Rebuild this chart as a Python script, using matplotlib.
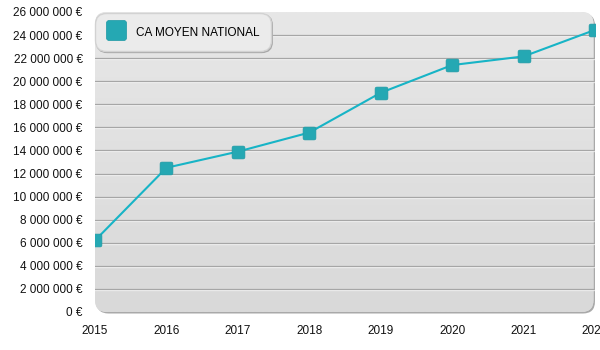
import numpy as np
import matplotlib
matplotlib.use("Agg")
import matplotlib.pyplot as plt
from matplotlib.patches import FancyBboxPatch
from matplotlib.path import Path
from matplotlib.lines import Line2D
import matplotlib.transforms as mtransforms
from matplotlib.ticker import FuncFormatter, MultipleLocator

years = [2015, 2016, 2017, 2018, 2019, 2020, 2021, 2022]
ca_moyen = [6.2e6, 12.5e6, 13.9e6, 15.55e6, 19.0e6, 21.4e6, 22.15e6, 24.45e6]
series_label = "CA MOYEN NATIONAL"

LINE_COLOR = "#17b4c6"
MARKER_COLOR = "#25a8b3"

plt.rcParams["font.family"] = ["Liberation Sans", "DejaVu Sans"]
plt.rcParams["font.size"] = 8.5

fig = plt.figure(figsize=(6, 3.5), dpi=100)
ax = fig.add_axes([95 / 600, 38 / 350, 500 / 600, 300 / 350])


def rounded_square(r=0.28, n=8):
    """Square marker path with rounded corners."""
    pts = []
    centers = [(1 - r, 1 - r, 0), (-1 + r, 1 - r, 90), (-1 + r, -1 + r, 180), (1 - r, -1 + r, 270)]
    for cx, cy, a0 in centers:
        for t in np.linspace(np.radians(a0), np.radians(a0 + 90), n):
            pts.append((cx + r * np.cos(t), cy + r * np.sin(t)))
    pts.append(pts[0])
    codes = [Path.MOVETO] + [Path.LINETO] * (len(pts) - 2) + [Path.CLOSEPOLY]
    return Path(pts, codes)


marker_path = rounded_square()

# rounded background panel with a soft shadow on the right and bottom
W, H = 500.0, 300.0
aspect = W / H
shadow_tr = mtransforms.offset_copy(ax.transAxes, fig=fig, x=1.5, y=-1.5, units="dots")
shadow = FancyBboxPatch((0, 0), 0.997, 1.0, boxstyle="round,pad=0,rounding_size=0.024",
                        mutation_aspect=aspect, transform=shadow_tr,
                        facecolor="#a9a9a9", edgecolor="none", zorder=0, clip_on=False)
ax.add_patch(shadow)
panel = FancyBboxPatch((0, 0), 0.997, 1.0, boxstyle="round,pad=0,rounding_size=0.024",
                       mutation_aspect=aspect, transform=ax.transAxes,
                       facecolor="#e0e0e0", edgecolor="none", zorder=0.1, clip_on=False)
ax.add_patch(panel)
grad = np.linspace(0, 1, 256).reshape(-1, 1)
img = ax.imshow(grad, extent=[0, 0.997, 0, 1], transform=ax.transAxes, aspect="auto",
                cmap=matplotlib.colors.LinearSegmentedColormap.from_list("bg", ["#e7e7e7", "#d9d9d9"]),
                origin="upper", zorder=0.2, interpolation="bilinear")
img.set_clip_path(panel)

# embossed horizontal grid
grid_vals = np.arange(2e6, 26e6, 2e6)
hl_tr = mtransforms.offset_copy(ax.get_yaxis_transform(), fig=fig, y=-1, units="dots")
for v in grid_vals:
    ax.plot([0, 0.997], [v, v], transform=hl_tr, color="white", lw=0.9, alpha=0.7, zorder=0.5)
    ax.plot([0, 0.997], [v, v], transform=ax.get_yaxis_transform(), color="#a6a6a6",
            lw=0.9, zorder=0.6)

ax.plot(years, ca_moyen, color=LINE_COLOR, lw=1.5, marker=marker_path, markersize=9.2,
        markerfacecolor=MARKER_COLOR, markeredgecolor="#1f9aa5", markeredgewidth=0.5,
        zorder=3, clip_on=True)

ax.set_xlim(2015, 2022)
ax.set_ylim(0, 26e6)
ax.yaxis.set_major_locator(MultipleLocator(2e6))
ax.yaxis.set_major_formatter(FuncFormatter(lambda v, p: f"{v:,.0f}".replace(",", " ") + " €"))
ax.set_xticks(years)
ax.set_xticklabels([str(y) for y in years])
ax.tick_params(axis="both", length=0, labelsize=8.5, colors="#111111")
ax.tick_params(axis="y", pad=9)
ax.tick_params(axis="x", pad=9.5)
for s in ax.spines.values():
    s.set_visible(False)
ax.set_facecolor("none")
ax.patch.set_visible(False)

handle = Line2D([], [], linestyle="none", marker=marker_path, markersize=14.5,
                markerfacecolor=MARKER_COLOR, markeredgecolor="#1f9aa5", markeredgewidth=0.5)
leg = ax.legend([handle], [series_label], loc="upper left", bbox_to_anchor=(0, 0.997),
                borderaxespad=0, borderpad=0.93, handlelength=1.7, handleheight=1.7,
                handletextpad=0.85, fontsize=8.5, frameon=True, fancybox=True,
                framealpha=1, facecolor="#ebebeb", edgecolor="#d2d2d2",
                shadow={"ox": 1.2, "oy": -1.2, "color": "#a8a8a8", "alpha": 1})
leg.get_frame().set_boxstyle("round", pad=0, rounding_size=0.9)
leg.set_zorder(5)

fig.savefig("out.png", dpi=100)
